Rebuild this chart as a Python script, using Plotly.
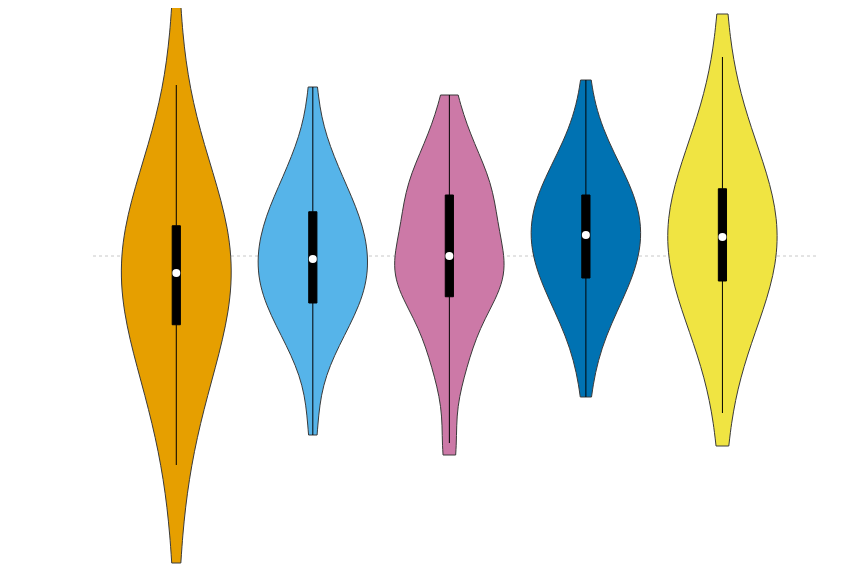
import numpy as np
import plotly.graph_objects as go

# Five groups, values (dotted reference line = 0)
groups = ["A", "B", "C", "D", "E"]
colors = ["#E69F00", "#56B4E9", "#CC79A7", "#0072B2", "#F0E442"]

groupA = [2.51, 1.71, 1.11, 0.91, 0.78, 0.68, 0.61, 0.55, 0.49, 0.43, 0.38, 0.34,
          0.29, 0.25, 0.21, 0.18, 0.13, 0.10, 0.06, 0.02, -0.02, -0.06, -0.10, -0.13,
          -0.17,
          -0.21, -0.25, -0.29, -0.34, -0.38, -0.42, -0.46, -0.50, -0.55, -0.59, -0.63, -0.67,
          -0.74, -0.82, -0.91, -1.01, -1.12, -1.24, -1.37, -1.52, -1.69, -1.84, -2.09, -3.07]
groupB = [1.69, 1.28, 1.11, 1.00, 0.90, 0.82, 0.75, 0.69, 0.63, 0.57, 0.52, 0.48,
          0.43, 0.39, 0.35, 0.31, 0.27, 0.24, 0.20, 0.16, 0.12, 0.08, 0.04, 0.01,
          -0.03,
          -0.06, -0.10, -0.13, -0.17, -0.20, -0.24, -0.28, -0.31, -0.35, -0.38, -0.42, -0.46,
          -0.50, -0.55, -0.59, -0.64, -0.70, -0.76, -0.83, -0.90, -0.99, -1.10, -1.39, -1.79]
groupC = [1.61, 1.38, 1.24, 1.13, 1.04, 0.96, 0.89, 0.83, 0.78, 0.73, 0.68, 0.64,
          0.60, 0.55, 0.50, 0.45, 0.40, 0.35, 0.30, 0.25, 0.20, 0.15, 0.10, 0.05,
          0.00,
          -0.03, -0.06, -0.10, -0.13, -0.16, -0.20, -0.23, -0.26, -0.30, -0.33, -0.36, -0.39,
          -0.46, -0.53, -0.60, -0.68, -0.76, -0.85, -0.95, -1.06, -1.19, -1.36, -1.87, -1.99]
groupD = [1.76, 1.32, 1.18, 1.08, 1.00, 0.93, 0.87, 0.82, 0.77, 0.72, 0.68, 0.64,
          0.60, 0.57, 0.53, 0.50, 0.47, 0.44, 0.40, 0.37, 0.34, 0.30, 0.27, 0.24,
          0.21,
          0.18, 0.14, 0.11, 0.07, 0.04, 0.00, -0.03, -0.07, -0.10, -0.14, -0.17, -0.21,
          -0.25, -0.29, -0.34, -0.39, -0.45, -0.50, -0.57, -0.64, -0.73, -0.83, -1.09, -1.41]
groupE = [2.42, 1.99, 1.41, 1.24, 1.14, 1.06, 0.98, 0.92, 0.86, 0.81, 0.75, 0.71,
          0.66, 0.62, 0.58, 0.54, 0.50, 0.46, 0.42, 0.38, 0.34, 0.30, 0.27, 0.23,
          0.19,
          0.16, 0.12, 0.08, 0.05, 0.01, -0.02, -0.06, -0.09, -0.13, -0.17, -0.20, -0.24,
          -0.28, -0.33, -0.37, -0.42, -0.48, -0.54, -0.61, -0.68, -0.77, -0.91, -1.57, -1.90]

values = [groupA, groupB, groupC, groupD, groupE]
bandwidths = [0.85, 0.3, 0.3, 0.38, 0.7]

fig = go.Figure()
for name, vals, col, bw in zip(groups, values, colors, bandwidths):
    fig.add_trace(go.Violin(x=[name] * len(vals), y=vals, name=name,
                            fillcolor=col, opacity=1,
                            line=dict(color='#3a3a3a', width=1),
                            width=0.8, spanmode='hard', bandwidth=bw,
                            points=False,
                            box=dict(visible=True, width=0.075, fillcolor='black',
                                     line=dict(color='black', width=1)),
                            meanline=dict(visible=False),
                            hoverinfo='skip'))

# White median dots
medians = [float(np.median(v)) for v in values]
fig.add_trace(go.Scatter(x=groups, y=medians, mode='markers',
                         marker=dict(color='white', size=8),
                         hoverinfo='skip'))

fig.add_shape(type='line', xref='paper', x0=0, x1=1, y0=0, y1=0,
              line=dict(color='#c8c8c8', width=1, dash='dot'), layer='below')

fig.update_layout(width=836, height=562, showlegend=False,
                  plot_bgcolor='white', paper_bgcolor='white',
                  margin=dict(l=85, r=26, t=0, b=0),
                  xaxis=dict(visible=False, range=[-0.61, 4.70]),
                  yaxis=dict(visible=False, range=[-3.14, 2.48]))
fig.write_html("out.html")
